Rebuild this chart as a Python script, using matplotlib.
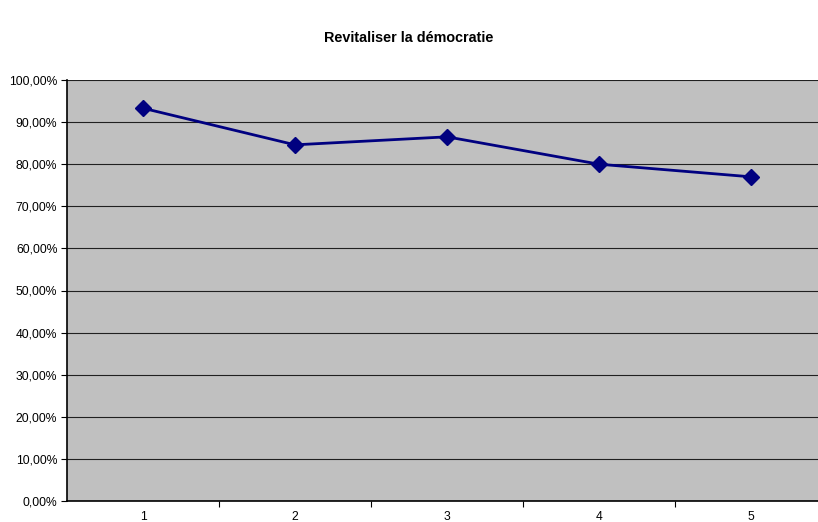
import matplotlib
matplotlib.use("Agg")
import matplotlib.pyplot as plt
from matplotlib.ticker import FuncFormatter, FixedLocator

# data
categories = [1, 2, 3, 4, 5]
values = [93.3, 84.6, 86.5, 80.0, 77.0]
title = "Revitaliser la démocratie"

plt.rcParams['font.family'] = ['Liberation Sans', 'DejaVu Sans']

fig = plt.figure(figsize=(8.18, 5.22), dpi=100)
W, H = 818, 522
# plot area in pixels: left 67, top 80, bottom 501, right past the image edge
ax = fig.add_axes([67 / W, 1 - 501 / H, (827 - 67) / W, (501 - 80) / H])
ax.set_facecolor('#C0C0C0')

ax.plot(categories, values, color='#000080', linewidth=2, marker='D',
        markersize=8, markerfacecolor='#000080', markeredgecolor='#000080',
        zorder=3, clip_on=False)

ax.set_xlim(0.5, 5.5)
ax.set_ylim(0, 100)
ax.set_yticks(range(0, 101, 10))
ax.yaxis.set_major_formatter(FuncFormatter(lambda v, p: f"{v:.2f}".replace('.', ',') + "%"))
ax.grid(axis='y', color='#202020', linewidth=0.8)
ax.set_axisbelow(True)

# x: tick marks between categories, labels centred on categories
ax.xaxis.set_major_locator(FixedLocator([1.5, 2.5, 3.5, 4.5]))
ax.xaxis.set_major_formatter(FuncFormatter(lambda v, p: ""))
ax.xaxis.set_minor_locator(FixedLocator(categories))
ax.xaxis.set_minor_formatter(FuncFormatter(lambda v, p: str(int(round(v)))))
ax.tick_params(axis='x', which='minor', length=0, labelsize=8.7, pad=7)
ax.tick_params(axis='x', which='major', length=4, width=0.8, direction='out')
ax.tick_params(axis='y', length=4, width=0.8, labelsize=8.7, pad=3)

for pos in ['top', 'right']:
    ax.spines[pos].set_visible(False)
for pos in ['left', 'bottom']:
    ax.spines[pos].set_color('black')
    ax.spines[pos].set_linewidth(1.2)

fig.text(0.5, 1 - 38 / H, title, ha='center', va='center',
         fontsize=10.4, fontweight='bold')

fig.savefig('out.png', dpi=100)
